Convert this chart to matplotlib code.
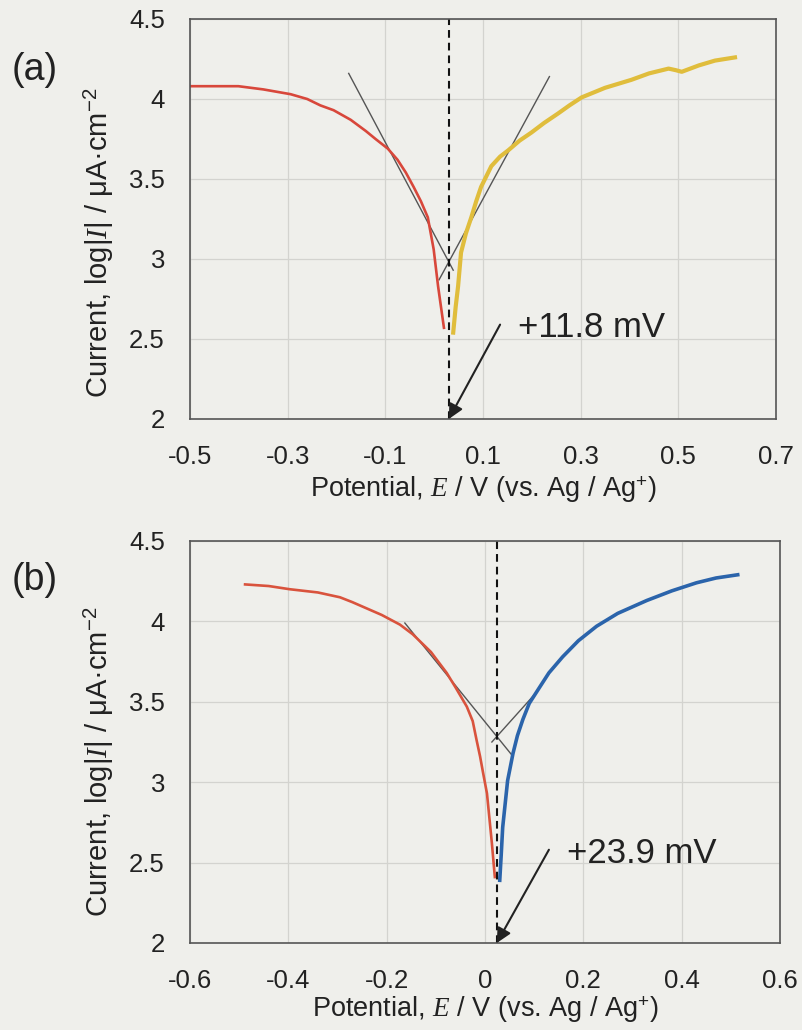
import matplotlib
matplotlib.use('Agg')
import matplotlib.pyplot as plt

plt.rcParams['font.family'] = ['Liberation Sans', 'DejaVu Sans']
plt.rcParams['mathtext.fontset'] = 'custom'
plt.rcParams['mathtext.rm'] = 'Liberation Sans'
plt.rcParams['mathtext.it'] = 'Liberation Serif:italic'
plt.rcParams['axes.unicode_minus'] = False

# ---- panel (a) data ----
a_cath_E = [-0.500, -0.450, -0.401, -0.350, -0.294, -0.260, -0.233, -0.206,
            -0.171, -0.140, -0.120, -0.095, -0.075, -0.058, -0.042, -0.027,
            -0.013, -0.001, 0.008, 0.020]
a_cath_logI = [4.08, 4.08, 4.08, 4.06, 4.03, 4.00, 3.96, 3.93,
               3.87, 3.80, 3.75, 3.69, 3.62, 3.54, 3.45, 3.36,
               3.26, 3.06, 2.83, 2.57]
a_anod_E = [0.039, 0.044, 0.049, 0.055, 0.065, 0.076, 0.086, 0.096, 0.117,
            0.135, 0.152, 0.175, 0.199, 0.225, 0.254, 0.277, 0.302, 0.350,
            0.404, 0.440, 0.480, 0.495, 0.507, 0.542, 0.575, 0.616]
a_anod_logI = [2.54, 2.70, 2.83, 3.04, 3.16, 3.26, 3.36, 3.45, 3.58,
               3.64, 3.68, 3.74, 3.79, 3.85, 3.91, 3.96, 4.01, 4.07,
               4.12, 4.16, 4.19, 4.18, 4.17, 4.21, 4.24, 4.26]
a_tafel_c_E = [-0.175, 0.039]
a_tafel_c_logI = [4.16, 2.93]
a_tafel_a_E = [0.236, 0.010]
a_tafel_a_logI = [4.14, 2.87]
a_ecorr = 0.030
a_text = '+11.8 mV'
a_xticks = [-0.5, -0.3, -0.1, 0.1, 0.3, 0.5, 0.7]

# ---- panel (b) data ----
b_cath_E = [-0.488, -0.440, -0.397, -0.340, -0.295, -0.270, -0.240, -0.210,
            -0.173, -0.147, -0.110, -0.078, -0.060, -0.037, -0.025, -0.017,
            -0.010, -0.004, 0.004, 0.014, 0.020]
b_cath_logI = [4.23, 4.22, 4.20, 4.18, 4.15, 4.12, 4.08, 4.04,
               3.98, 3.92, 3.81, 3.68, 3.59, 3.47, 3.38, 3.26,
               3.16, 3.06, 2.93, 2.62, 2.41]
b_anod_E = [0.030, 0.033, 0.036, 0.046, 0.057, 0.066, 0.077, 0.090, 0.111,
            0.130, 0.158, 0.190, 0.227, 0.270, 0.329, 0.380, 0.430, 0.470,
            0.514]
b_anod_logI = [2.39, 2.55, 2.72, 3.01, 3.18, 3.29, 3.39, 3.49, 3.59,
               3.68, 3.78, 3.88, 3.97, 4.05, 4.13, 4.19, 4.24, 4.27,
               4.29]
b_tafel_c_E = [-0.163, 0.057]
b_tafel_c_logI = [3.99, 3.16]
b_tafel_a_E = [0.014, 0.105]
b_tafel_a_logI = [3.25, 3.56]
b_ecorr = 0.024
b_text = '+23.9 mV'
b_xticks = [-0.6, -0.4, -0.2, 0, 0.2, 0.4, 0.6]

yticks = [2, 2.5, 3, 3.5, 4, 4.5]

paper = '#efefeb'
ylab = r'Current, log|$\mathit{I}$| / μA·cm$^{-2}$'
xlab = r'Potential, $\mathit{E}$ / V (vs. Ag / Ag$^{+}$)'

fig = plt.figure(figsize=(8.02, 10.30), dpi=100, facecolor=paper)
W, H = 802.0, 1030.0


def panel(box, xticks, cath, anod, cath_col, anod_col, anod_lw,
          tc, ta, ecorr, text, text_xy, tail_xy, tag, tag_y, ylab_y, xlab_y):
    l, t, r, b = box
    ax = fig.add_axes([l / W, 1 - b / H, (r - l) / W, (b - t) / H])
    ax.set_facecolor(paper)
    ax.set_xlim(xticks[0], xticks[-1])
    ax.set_ylim(2, 4.5)
    ax.set_xticks(xticks)
    ax.set_yticks(yticks)
    ax.set_xticklabels(['%g' % v for v in xticks])
    ax.set_yticklabels(['%g' % v for v in yticks])
    ax.tick_params(length=0, labelsize=18.5, colors='#222222')
    ax.tick_params(axis='y', pad=18)
    ax.tick_params(axis='x', pad=19)
    ax.grid(True, color='#d3d3cf', lw=0.9)
    ax.set_axisbelow(True)
    for s in ax.spines.values():
        s.set_color('#555555')
        s.set_linewidth(1.2)

    ax.plot(tc[0], tc[1], color='#555555', lw=1.0)
    ax.plot(ta[0], ta[1], color='#555555', lw=1.0)
    ax.plot(cath[0], cath[1], color=cath_col, lw=1.9)
    ax.plot(anod[0], anod[1], color=anod_col, lw=anod_lw)
    ax.axvline(ecorr, color='#111111', lw=1.5, ls=(0, (3.7, 2.4)))

    ax.annotate('', xy=(ecorr, 2.0), xytext=tail_xy,
                arrowprops=dict(arrowstyle='-|>', color='#222222', lw=1.5,
                                mutation_scale=22, shrinkA=0, shrinkB=0))
    ax.text(text_xy[0], text_xy[1], text, fontsize=25, color='#222222',
            va='baseline', ha='left')

    fig.text(12 / W, 1 - tag_y / H, tag, fontsize=27, color='#222222',
             ha='left', va='center')
    fig.text(99 / W, 1 - ylab_y / H, ylab, rotation=90, fontsize=21,
             color='#222222', ha='center', va='center')
    fig.text((l + r) / 2 / W, 1 - xlab_y / H, xlab, fontsize=19.5,
             color='#222222', ha='center', va='center')
    return ax


panel((190, 19, 776, 419), a_xticks, (a_cath_E, a_cath_logI),
      (a_anod_E, a_anod_logI), '#d8473b', '#e0bd3c', 3.0,
      (a_tafel_c_E, a_tafel_c_logI), (a_tafel_a_E, a_tafel_a_logI),
      a_ecorr, a_text, (0.172, 2.51), (0.135, 2.59), '(a)', 70, 243, 490)

panel((190, 541, 780, 943), b_xticks, (b_cath_E, b_cath_logI),
      (b_anod_E, b_anod_logI), '#d9533d', '#2b64ab', 2.6,
      (b_tafel_c_E, b_tafel_c_logI), (b_tafel_a_E, b_tafel_a_logI),
      b_ecorr, b_text, (0.166, 2.50), (0.130, 2.58), '(b)', 580, 762, 1010)

fig.savefig('out.png', dpi=100, facecolor=fig.get_facecolor())
